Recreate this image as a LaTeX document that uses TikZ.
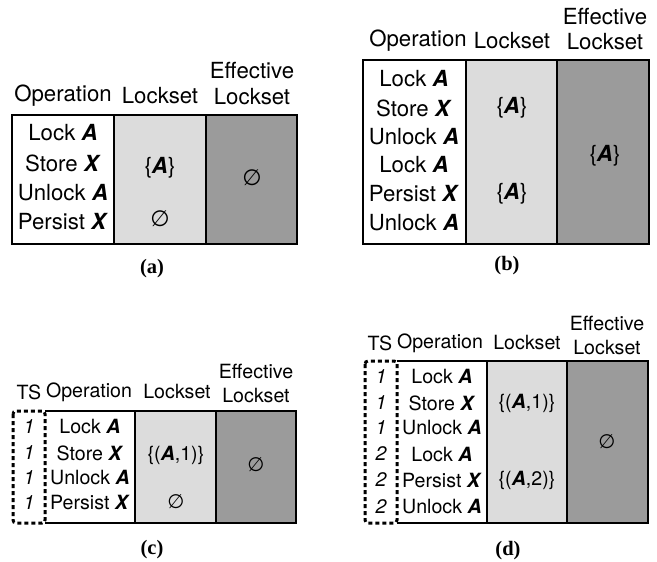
\documentclass[tikz,border=0pt]{standalone}
\usepackage{fontspec}
\setmainfont{TeX Gyre Heros}
\newfontfamily\capfont{Liberation Serif}
\newfontfamily\symfont{DejaVu Sans}
\definecolor{lightcell}{HTML}{DCDCDC}
\definecolor{darkcell}{HTML}{9B9B9B}
\begin{document}
\begin{tikzpicture}[x=1pt,y=-1pt,
  cellbox/.style={draw=black,line width=1.8pt},
  big/.style={font=\fontsize{22.2}{25}\selectfont,inner sep=0pt,anchor=center},
  small/.style={font=\fontsize{19.6}{22}\selectfont,inner sep=0pt,anchor=center},
  tsbox/.style={draw=black,line width=3pt,dash pattern=on 4pt off 3pt,rounded corners=3pt},
  caption/.style={font=\capfont\bfseries\fontsize{20.5}{22}\selectfont,inner sep=0pt}]
\useasboundingbox (0,0) rectangle (657,562);
\newcommand{\bA}{\textbf{\textit{A}}}
\newcommand{\bX}{\textbf{\textit{X}}}
\newcommand{\nullset}{{\symfont\char"2205}}

% ---------- (a) ----------
\fill[white] (12,115) rectangle (114,244);
\fill[lightcell] (114,115) rectangle (206,244);
\fill[darkcell] (206,115) rectangle (297,244);
\draw[cellbox] (12,115) rectangle (297,244);
\draw[cellbox] (114,115) -- (114,244);
\draw[cellbox] (206,115) -- (206,244);
\node[big] (ah1) at (63,96) {Operation};
\node[big] (ah2) at (160,96) {Lockset};
\node[big] (ah3) at (252,71) {Effective};
\node[big] (ah4) at (252,97) {Lockset};
\node[big] (ar1) at (63,133) {Lock \bA};
\node[big] (ar2) at (63,163) {Store \bX};
\node[big] (ar3) at (63,193) {Unlock \bA};
\node[big] (ar4) at (63,222) {Persist \bX};
\node[big] (al1) at (160,168) {\{\bA\}};
\node[big] (al2) at (160,219) {\nullset};
\node[big] (ae1) at (252,178) {\nullset};
\node[caption] (acap) at (152,269) {(a)};

% ---------- (b) ----------
\fill[white] (363,60) rectangle (466,244);
\fill[lightcell] (466,60) rectangle (557,244);
\fill[darkcell] (557,60) rectangle (649,244);
\draw[cellbox] (363,60) rectangle (649,244);
\draw[cellbox] (466,60) -- (466,244);
\draw[cellbox] (557,60) -- (557,244);
\node[big] (bh1) at (418,41) {Operation};
\node[big] (bh2) at (512,41) {Lockset};
\node[big] (bh3) at (605,17) {Effective};
\node[big] (bh4) at (605,42) {Lockset};
\node[big] (br1) at (414,79) {Lock \bA};
\node[big] (br2) at (414,108) {Store \bX};
\node[big] (br3) at (414,137) {Unlock \bA};
\node[big] (br4) at (414,165) {Lock \bA};
\node[big] (br5) at (414,194) {Persist \bX};
\node[big] (br6) at (414,223) {Unlock \bA};
\node[big] (bl1) at (512,108) {\{\bA\}};
\node[big] (bl2) at (512,194) {\{\bA\}};
\node[big] (be1) at (605,156) {\{\bA\}};
\node[caption] (bcap) at (507,266) {(b)};

% ---------- (c) ----------
\fill[white] (45,411) rectangle (135,523);
\fill[lightcell] (135,411) rectangle (216,523);
\fill[darkcell] (216,411) rectangle (296,523);
\draw[cellbox] (45,411) -- (296,411) -- (296,523) -- (45,523);
\draw[cellbox] (135,411) -- (135,523);
\draw[cellbox] (216,411) -- (216,523);
\draw[tsbox] (13,411) rectangle (45,523);
\node[small] (ch0) at (29,392) {TS};
\node[small] (ch1) at (89,392) {Operation};
\node[small] (ch2) at (177,392) {Lockset};
\node[small] (ch3) at (256,371) {Effective};
\node[small] (ch4) at (256,396) {Lockset};
\foreach \y [count=\i] in {427,453,478,503} {
  \node[small] (ct\i) at (29,\y) {\itshape 1};
}
\node[small] (cr1) at (90,427) {Lock \bA};
\node[small] (cr2) at (90,453) {Store \bX};
\node[small] (cr3) at (90,478) {Unlock \bA};
\node[small] (cr4) at (90,503) {Persist \bX};
\node[small] (cl1) at (176,455) {\{(\bA,1)\}};
\node[small] (cl2) at (176,502) {\nullset};
\node[small] (ce1) at (256,465) {\nullset};
\node[caption] (ccap) at (152,550) {(c)};

% ---------- (d) ----------
\fill[white] (397,361) rectangle (487,523);
\fill[lightcell] (487,361) rectangle (567,523);
\fill[darkcell] (567,361) rectangle (648,523);
\draw[cellbox] (397,361) -- (648,361) -- (648,523) -- (397,523);
\draw[cellbox] (487,361) -- (487,523);
\draw[cellbox] (567,361) -- (567,523);
\draw[tsbox] (365,361) rectangle (397,523);
\node[small] (dh0) at (380,343) {TS};
\node[small] (dh1) at (440,343) {Operation};
\node[small] (dh2) at (527,343) {Lockset};
\node[small] (dh3) at (607,323) {Effective};
\node[small] (dh4) at (607,348) {Lockset};
\foreach \y/\t [count=\i] in {377/1,403/1,428/1,454/2,480/2,507/2} {
  \node[small] (dt\i) at (381,\y) {\itshape \t};
}
\node[small] (dr1) at (442,377) {Lock \bA};
\node[small] (dr2) at (442,403) {Store \bX};
\node[small] (dr3) at (442,428) {Unlock \bA};
\node[small] (dr4) at (442,454) {Lock \bA};
\node[small] (dr5) at (442,480) {Persist \bX};
\node[small] (dr6) at (442,507) {Unlock \bA};
\node[small] (dl1) at (527,403) {\{(\bA,1)\}};
\node[small] (dl2) at (527,480) {\{(\bA,2)\}};
\node[small] (de1) at (607,442) {\nullset};
\node[caption] (dcap) at (508,551) {(d)};
\end{tikzpicture}
\end{document}
